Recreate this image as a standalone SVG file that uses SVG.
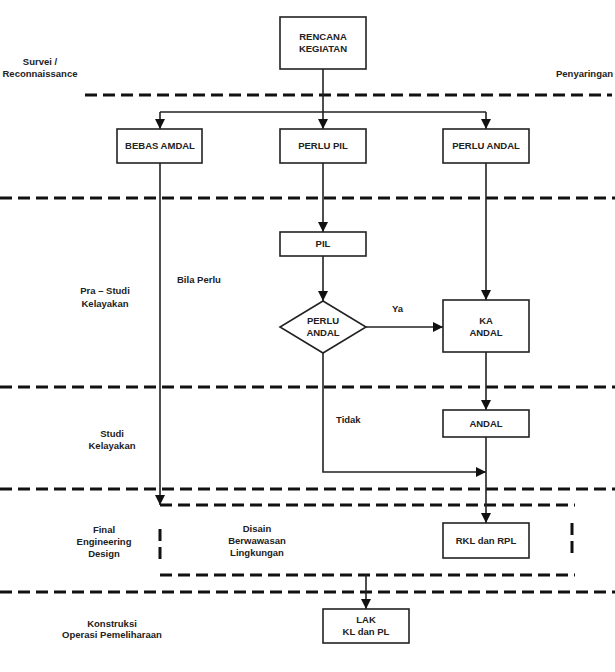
<svg xmlns="http://www.w3.org/2000/svg" width="615" height="672" viewBox="0 0 615 672">
<style>
.box{fill:#fff;stroke:#222;stroke-width:1.6}
.t{font-family:"Liberation Sans",Arial,sans-serif;font-weight:bold;font-size:9.5px;fill:#222;text-anchor:middle}
.ts{font-family:"Liberation Sans",Arial,sans-serif;font-weight:bold;font-size:9.5px;fill:#222}
.dash{stroke:#111;stroke-width:3;stroke-dasharray:12 6;fill:none}
.c{stroke:#222;stroke-width:1.6;fill:none}
</style>
<defs>
<marker id="ah" viewBox="0 0 10 10" refX="10" refY="5" markerWidth="11" markerHeight="10" markerUnits="userSpaceOnUse" orient="auto">
<path d="M0,0 L10,5 L0,10 z" fill="#111"/>
</marker>
</defs>
<rect width="615" height="672" fill="#fff"/>
<g id="phases">
<line class="dash" x1="85" y1="95" x2="612" y2="95"/>
<line class="dash" x1="0" y1="198" x2="615" y2="198"/>
<line class="dash" x1="0" y1="387" x2="615" y2="387"/>
<line class="dash" x1="0" y1="489" x2="615" y2="489"/>
<line class="dash" x1="160" y1="505" x2="575" y2="505"/>
<line class="dash" x1="160" y1="529" x2="160" y2="560"/>
<line class="dash" x1="572" y1="523" x2="572" y2="554"/>
<line class="dash" x1="160" y1="575" x2="575" y2="575"/>
<line class="dash" x1="0" y1="592" x2="615" y2="592"/>
<text class="t" x="40" y="65">Survei /</text>
<text class="t" x="40" y="77">Reconnaissance</text>
<text class="ts" x="556" y="77">Penyaringan</text>
<text class="t" x="105" y="294">Pra – Studi</text>
<text class="t" x="105" y="307">Kelayakan</text>
<text class="t" x="112" y="437">Studi</text>
<text class="t" x="112" y="449">Kelayakan</text>
<text class="t" x="104" y="533">Final</text>
<text class="t" x="104" y="545">Engineering</text>
<text class="t" x="104" y="557">Design</text>
<text class="t" x="257" y="532">Disain</text>
<text class="t" x="257" y="544">Berwawasan</text>
<text class="t" x="257" y="556">Lingkungan</text>
<text class="t" x="112" y="627">Konstruksi</text>
<text class="t" x="112" y="638">Operasi Pemeliharaan</text>
</g>
<g id="connectors">
<polyline class="c" points="323,69 323,112"/>
<polyline class="c" points="160,112 486,112"/>
<line class="c" x1="160" y1="112" x2="160" y2="129" marker-end="url(#ah)"/>
<line class="c" x1="323" y1="112" x2="323" y2="129" marker-end="url(#ah)"/>
<line class="c" x1="486" y1="112" x2="486" y2="129" marker-end="url(#ah)"/>
<line class="c" x1="160" y1="163" x2="160" y2="505" marker-end="url(#ah)"/>
<line class="c" x1="323" y1="163" x2="323" y2="232" marker-end="url(#ah)"/>
<line class="c" x1="323" y1="256" x2="323" y2="301" marker-end="url(#ah)"/>
<line class="c" x1="486" y1="163" x2="486" y2="300" marker-end="url(#ah)"/>
<line class="c" x1="366" y1="327" x2="443" y2="327" marker-end="url(#ah)"/>
<line class="c" x1="486" y1="352" x2="486" y2="410" marker-end="url(#ah)"/>
<polyline class="c" points="323,353 323,472 486,472" marker-end="url(#ah)"/>
<line class="c" x1="486" y1="437" x2="486" y2="523" marker-end="url(#ah)"/>
<line class="c" x1="366" y1="575" x2="366" y2="609" marker-end="url(#ah)"/>
<text class="ts" x="177" y="283">Bila Perlu</text>
<text class="ts" x="392" y="312">Ya</text>
<text class="ts" x="336" y="423">Tidak</text>
</g>
<g id="rencana">
<rect class="box" x="280" y="17" width="86" height="52"/>
<text class="t" x="323" y="40">RENCANA</text>
<text class="t" x="323" y="52">KEGIATAN</text>
</g>
<g id="bebas">
<rect class="box" x="117" y="129" width="85" height="34"/>
<text class="t" x="160" y="149">BEBAS AMDAL</text>
</g>
<g id="perlupil">
<rect class="box" x="280" y="129" width="86" height="34"/>
<text class="t" x="323" y="149">PERLU PIL</text>
</g>
<g id="perluandal">
<rect class="box" x="443" y="129" width="86" height="34"/>
<text class="t" x="486" y="149">PERLU ANDAL</text>
</g>
<g id="pil">
<rect class="box" x="280" y="232" width="86" height="24"/>
<text class="t" x="323" y="247">PIL</text>
</g>
<g id="decision">
<polygon class="box" points="323,301 366,327 323,353 280,327"/>
<text class="t" x="323" y="324">PERLU</text>
<text class="t" x="323" y="336">ANDAL</text>
</g>
<g id="kaandal">
<rect class="box" x="443" y="300" width="86" height="52"/>
<text class="t" x="486" y="324">KA</text>
<text class="t" x="486" y="336">ANDAL</text>
</g>
<g id="andal">
<rect class="box" x="443" y="410" width="86" height="27"/>
<text class="t" x="486" y="427">ANDAL</text>
</g>
<g id="rkl">
<rect class="box" x="443" y="523" width="86" height="35"/>
<text class="t" x="486" y="544">RKL dan RPL</text>
</g>
<g id="lak">
<rect class="box" x="323" y="609" width="86" height="34"/>
<text class="t" x="366" y="623">LAK</text>
<text class="t" x="366" y="635">KL dan PL</text>
</g>
</svg>
